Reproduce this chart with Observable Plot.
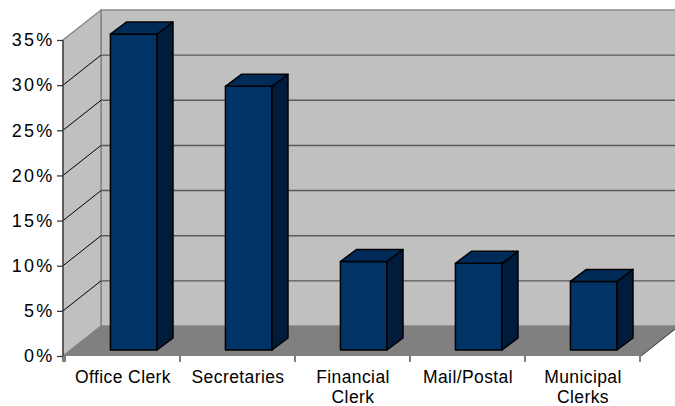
<!DOCTYPE html>
<html>
<head>
<meta charset="utf-8">
<script src="https://cdn.jsdelivr.net/npm/d3@7"></script>
<script src="https://cdn.jsdelivr.net/npm/@observablehq/plot@0.6"></script>
<style>
  html, body { margin: 0; padding: 0; background: #fff; overflow: hidden; }
  #chart svg { display: block; }
  g[aria-label="y-axis tick label"] text { letter-spacing: 2.2px; }
  g[aria-label="x-axis tick label"] text { letter-spacing: 0.4px; }
</style>
</head>
<body>
<div id="chart"></div>
<script>
// ---- data ----
const categories = ["Office Clerk", "Secretaries", "Financial Clerk", "Mail/Postal", "Municipal Clerks"];
const tickLabels = ["Office Clerk", "Secretaries", "Financial\nClerk", "Mail/Postal", "Municipal\nClerks"];
const shares = [0.35, 0.292, 0.098, 0.096, 0.076];
const yTicks = [0, 0.05, 0.10, 0.15, 0.20, 0.25, 0.30, 0.35];

const rows = categories.map((c, i) => ({category: c, share: shares[i]}));

// ---- 3D styling (pixel offsets) ----
const DEPTH = {dx: 38, dy: -30};   // wall depth
const BAR = {dx: 16, dy: -12, shiftY: -6, left: 0.395, right: 0.80};
const WALL = "#c0c0c0", FLOOR = "#808080", EDGE = "#808080";
const FRONT = "#003366", SIDE = "#001b3b", TOP = "#002a58";

function bandInfo(x, dims) {
  const x0 = dims.marginLeft, x1 = dims.width - dims.marginRight;
  const bw = x.bandwidth ? x.bandwidth() : (x1 - x0) / categories.length;
  return {x0, x1, bw};
}

// back wall, left wall, floor and gridlines
function walls(index, scales, values, dims) {
  const {x, y} = scales;
  const {x0, x1} = bandInfo(x, dims);
  const yb = y(0), yt = y(d3.max(yTicks));
  const {dx, dy} = DEPTH;
  const g = d3.create("svg:g").attr("aria-label", "walls");
  g.append("rect")
    .attr("x", x0 + dx).attr("y", yt + dy)
    .attr("width", x1 - x0).attr("height", yb - yt)
    .attr("fill", WALL).attr("stroke", EDGE).attr("stroke-width", 1.3);
  g.append("path")
    .attr("d", `M${x0},${yt}L${x0 + dx},${yt + dy}L${x0 + dx},${yb + dy}L${x0},${yb}Z`)
    .attr("fill", WALL).attr("stroke", EDGE).attr("stroke-width", 1.3);
  g.append("path")
    .attr("d", `M${x0},${yb}L${x1},${yb}L${x1 + dx},${yb + dy}L${x0 + dx},${yb + dy}Z`)
    .attr("fill", FLOOR).attr("stroke", "none");
  // floor right edge
  g.append("line")
    .attr("x1", x1).attr("y1", yb).attr("x2", x1 + dx).attr("y2", yb + dy)
    .attr("stroke", "#333").attr("stroke-width", 1);
  // gridlines
  for (const t of yTicks) {
    if (t === 0 || t === d3.max(yTicks)) continue;
    g.append("line")
      .attr("x1", x0 + dx).attr("x2", x1 + dx)
      .attr("y1", y(t) + dy).attr("y2", y(t) + dy)
      .attr("stroke", "#5a5a5a").attr("stroke-width", 1.4);
    g.append("line")
      .attr("x1", x0).attr("y1", y(t))
      .attr("x2", x0 + dx).attr("y2", y(t) + dy)
      .attr("stroke", "#000").attr("stroke-width", 1);
  }
  return g.node();
}

// 3D bars
function bars3d(index, scales, values, dims) {
  const {x, y} = scales;
  const {bw} = bandInfo(x, dims);
  const g = d3.create("svg:g").attr("aria-label", "bars")
    .attr("stroke", "#000").attr("stroke-width", 1.5).attr("stroke-linejoin", "round");
  rows.forEach(r => {
    const bl = x(r.category);
    const l = bl + BAR.left * bw, rr = bl + BAR.right * bw;
    const t = y(r.share) + BAR.shiftY, b = y(0) + BAR.shiftY;
    const {dx, dy} = BAR;
    g.append("rect").attr("x", l).attr("y", t).attr("width", rr - l).attr("height", b - t).attr("fill", FRONT);
    g.append("path").attr("d", `M${rr},${t}L${rr + dx},${t + dy}L${rr + dx},${b + dy}L${rr},${b}Z`).attr("fill", SIDE);
    g.append("path").attr("d", `M${l},${t}L${l + dx},${t + dy}L${rr + dx},${t + dy}L${rr},${t}Z`).attr("fill", TOP);
  });
  return g.node();
}

// axis lines and category boundary ticks
function axisLines(index, scales, values, dims) {
  const {x, y} = scales;
  const {x0, bw} = bandInfo(x, dims);
  const yb = y(0), yt = y(d3.max(yTicks));
  const g = d3.create("svg:g").attr("aria-label", "axis lines").attr("stroke", "#3a3a3a").attr("stroke-width", 1.3);
  g.append("line").attr("x1", x0).attr("x2", x0).attr("y1", yt).attr("y2", yb + 6);
  const edges = categories.map(c => x(c)).concat([x(categories[categories.length - 1]) + bw]);
  for (const e of edges) {
    g.append("line").attr("x1", e).attr("x2", e).attr("y1", yb).attr("y2", yb + 6);
  }
  return g.node();
}

const chart = Plot.plot({
  width: 675,
  height: 406,
  marginLeft: 63,
  marginRight: 34,
  marginTop: 40,
  marginBottom: 50,
  style: {fontFamily: "Arial, 'Liberation Sans', sans-serif", background: "#fff", color: "#000", overflow: "visible"},
  x: {type: "band", domain: categories, paddingInner: 0, paddingOuter: 0, label: null},
  y: {domain: [0, 0.35], label: null},
  marks: [
    walls,
    bars3d,
    axisLines,
    Plot.axisY({ticks: yTicks, tickFormat: d3.format(".0%"), tickSize: 6, tickPadding: 3, fontSize: 18, stroke: "#3a3a3a", strokeWidth: 1.3, label: null}),
    Plot.axisX({tickSize: 0, tickPadding: 13, fontSize: 17.5, lineHeight: 1.12, label: null,
      tickFormat: d => tickLabels[categories.indexOf(d)]})
  ]
});
document.getElementById("chart").appendChild(chart);
</script>
</body>
</html>
